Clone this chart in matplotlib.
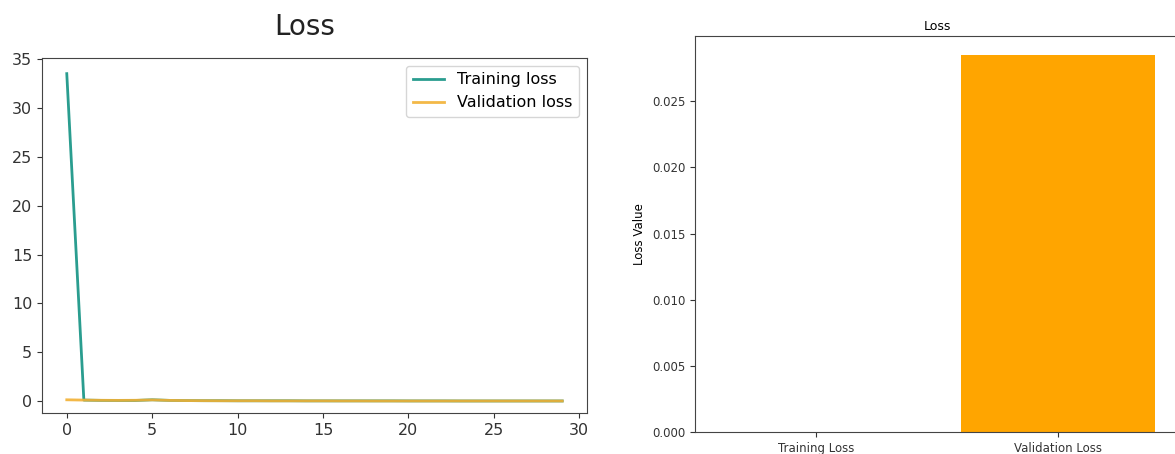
import matplotlib
matplotlib.use("Agg")
import matplotlib.pyplot as plt
import numpy as np

epochs = list(range(30))
training_loss = [33.5, 0.12, 0.09, 0.08, 0.08, 0.15, 0.09, 0.07, 0.06, 0.06,
                 0.05, 0.05, 0.05, 0.05, 0.04, 0.04, 0.04, 0.04, 0.04, 0.04,
                 0.035, 0.035, 0.035, 0.03, 0.03, 0.03, 0.03, 0.03, 0.03, 0.03]
validation_loss = [0.15, 0.12, 0.10, 0.09, 0.10, 0.14, 0.09, 0.07, 0.06, 0.05,
                   0.05, 0.05, 0.04, 0.04, 0.04, 0.04, 0.035, 0.035, 0.03, 0.03,
                   0.03, 0.03, 0.03, 0.03, 0.03, 0.03, 0.03, 0.03, 0.03, 0.0285]

bar_labels = ["Training Loss", "Validation Loss"]
bar_values = [0.00002, 0.0285]

W, H = 1175, 454
fig = plt.figure(figsize=(W / 100, H / 100), dpi=100)

def rect(l, r, t, b):
    return [l / W, (H - b) / H, (r - l) / W, (b - t) / H]

ax1 = fig.add_axes(rect(42, 587, 58, 413))
ax1.plot(epochs, training_loss, color="#2a9d8f", lw=2, label="Training loss")
ax1.plot(epochs, validation_loss, color="#f2b134", lw=2, alpha=0.9, label="Validation loss")
ax1.set_xticks([0, 5, 10, 15, 20, 25, 30])
ax1.set_yticks([0, 5, 10, 15, 20, 25, 30, 35])
ax1.set_ylim(-1.2, 35.1)
ax1.tick_params(labelsize=11.5, colors="#333333")
ax1.legend(fontsize=11.5, loc="upper right")
fig.text(305 / W, 1 - 27 / H, "Loss", fontsize=20, ha="center", va="center", color="#222222")
for s in ax1.spines.values():
    s.set_color("#444444")

ax2 = fig.add_axes(rect(695, 1179, 36, 432))
ax2.bar(bar_labels, bar_values, color=["teal", "orange"], width=0.8)
ax2.set_xlim(-0.5, 1.5)
ax2.set_title("Loss", fontsize=9, pad=4)
ax2.set_ylabel("Loss Value", fontsize=8.5)
ax2.tick_params(labelsize=8.5, colors="#333333")
for s in ax2.spines.values():
    s.set_color("#444444")

fig.savefig("out.png", dpi=100)
